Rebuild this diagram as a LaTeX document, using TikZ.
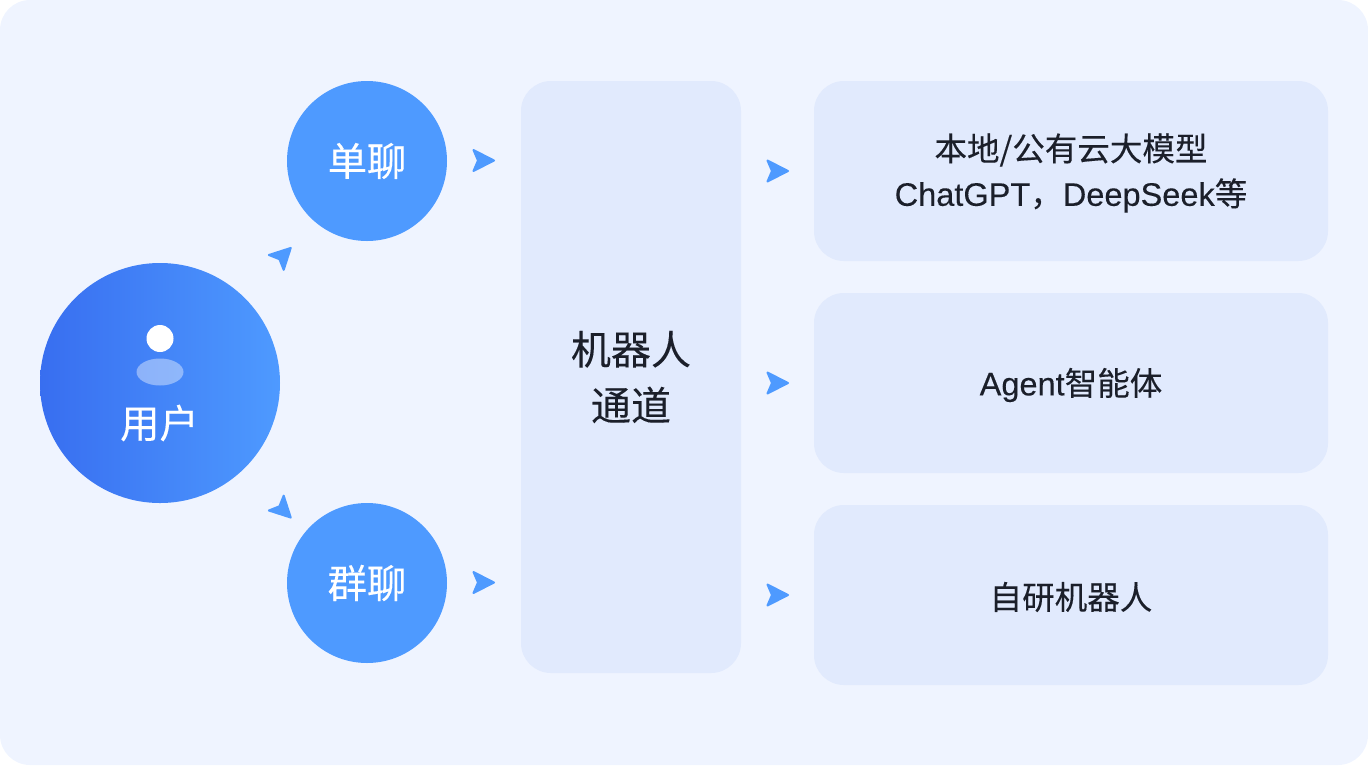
\documentclass[tikz,border=0pt]{standalone}
\usepackage{fontspec}
\setmainfont[FakeBold=0.2]{Noto Sans CJK SC}
\newfontfamily\latinfont[FakeBold=0.2]{Liberation Sans}
\definecolor{panelbg}{HTML}{EFF4FF}
\definecolor{boxbg}{HTML}{E1EAFD}
\definecolor{chatblue}{HTML}{4E9AFF}
\definecolor{userblue}{HTML}{386EF0}
\definecolor{inktext}{HTML}{1B1F2A}
\tikzset{
	panel/.style     = {fill=panelbg, rounded corners=22.5pt},
	treebox/.style   = {shape=rectangle, rounded corners=22.5pt, fill=boxbg,
		align=center, text=inktext, inner sep=0pt},
	model/.style     = {treebox, minimum width=385.5pt, minimum height=135pt},
	modeltext/.style = {align=center, text=inktext, inner sep=0pt, yshift=-1.5pt,
		font=\fontsize{24.4pt}{33.75pt}\selectfont},
	channel/.style   = {treebox, minimum width=165pt, minimum height=444pt,
		font=\fontsize{30pt}{42pt}\selectfont},
	chat/.style      = {circle, fill=chatblue, text=white, minimum size=120pt,
		inner sep=0pt, font=\fontsize{29.5pt}{34pt}\selectfont},
	user/.style      = {circle, left color=userblue, right color=chatblue, minimum size=180pt,
		inner sep=0pt},
	usertext/.style  = {text=white, inner sep=0pt, font=\fontsize{29.5pt}{34pt}\selectfont},
	flowtip/.pic     = {
		\filldraw[chatblue, line width=1.5pt, line join=round] (10,0) -- (-10.5,-10.5) -- (-6,0) -- (-10.5,10.5) -- cycle;
	}
}
\begin{document}
\begin{tikzpicture}
	[
	x = 0.75pt,
	y = -0.75pt
	]
	\useasboundingbox (0,0) rectangle (1368,765);
	\fill[panel] (0,0) rectangle (1368,765);
	% left side
	\node [user] (user) at (160,383) {};
	\fill[white] (160,338.5) circle [radius=13.5];
	\fill[white, opacity=0.4] (160,372) ellipse [x radius=23.5, y radius=13.5];
	\node [usertext] (userlabel) at (159.5,423) {用户};
	\node [chat] (single) at (367,161) {单聊};
	\node [chat] (group) at (367,583) {群聊};
	% middle
	\node [channel] (robot) at (631,377) {机器人\\通道};
	% right side
	\node [model, label={[modeltext]center:本地/公有云大模型\\{\latinfont ChatGPT}，{\latinfont DeepSeek}等}] (cloud) at (1071,171) {};
	\node [model, label={[modeltext]center:{\latinfont Agent}智能体}] (agent) at (1071,383) {};
	\node [model, label={[modeltext]center:自研机器人}] (own) at (1071,595) {};
	% tips
	\pic [rotate=45] at (283.7,255) {flowtip};
	\pic [rotate=-45] at (283.7,510.5) {flowtip};
	\pic at (484,160.5) {flowtip};
	\pic at (484,582.5) {flowtip};
	\pic at (778,171) {flowtip};
	\pic at (778,383) {flowtip};
	\pic at (778,595) {flowtip};
\end{tikzpicture}
\end{document}
